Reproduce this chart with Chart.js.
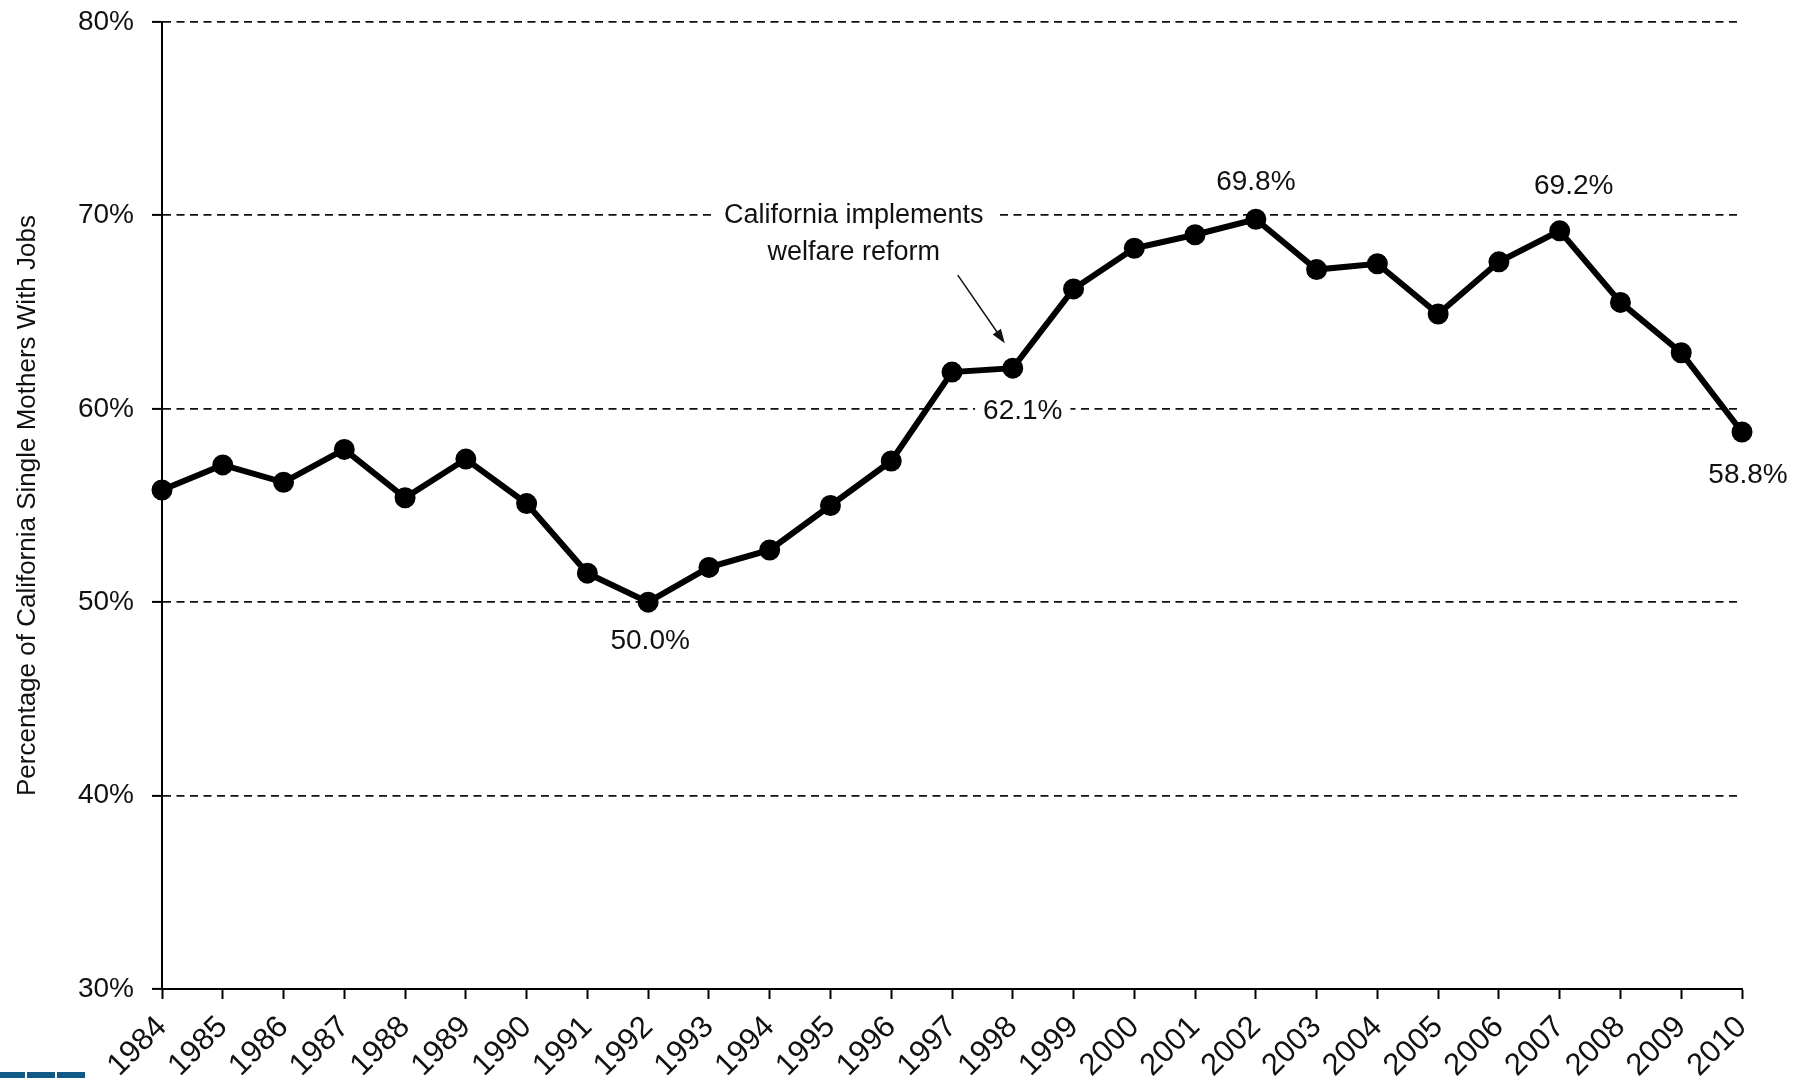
<!DOCTYPE html>
<html>
<head>
<meta charset="utf-8">
<script src="https://cdn.jsdelivr.net/npm/chart.js@4/dist/chart.umd.min.js"></script>
<style>
  html, body { margin: 0; padding: 0; background: #fff; }
  #wrap { position: relative; width: 1805px; height: 1078px; }
  .logo { position: absolute; bottom: 0; height: 6px; background: #0f5a86; }
</style>
</head>
<body>
<div id="wrap">
  <canvas id="chart" width="1805" height="1078"></canvas>
  <div class="logo" style="left:0;width:25px"></div>
  <div class="logo" style="left:27px;width:28px"></div>
  <div class="logo" style="left:57px;width:28px"></div>
</div>
<script>
const years = ["1984","1985","1986","1987","1988","1989","1990","1991","1992","1993","1994","1995","1996",
  "1997","1998","1999","2000","2001","2002","2003","2004","2005","2006","2007","2008","2009","2010"];
const employed = [55.8, 57.1, 56.2, 57.9, 55.4, 57.4, 55.1, 51.5, 50.0, 51.8, 52.7, 55.0, 57.3,
  61.9, 62.1, 66.2, 68.3, 69.0, 69.8, 67.2, 67.5, 64.9, 67.6, 69.2, 65.5, 62.9, 58.8];
const yTicks = [30, 40, 50, 60, 70, 80];

// labelled points: year, text, offset from point
const pointLabels = [
  { year: "1992", text: "50.0%", dx: 2, dy: 39 },
  { year: "1998", text: "62.1%", dx: 10, dy: 43 },
  { year: "2002", text: "69.8%", dx: 0, dy: -37 },
  { year: "2007", text: "69.2%", dx: 14, dy: -45 },
  { year: "2010", text: "58.8%", dx: 6, dy: 43 },
];
const noteLines = ["California implements", "welfare reform"];
const noteYear = "1998";

const FONT = "'Liberation Sans', Arial, sans-serif";

const annotations = {
  id: "annotations",
  beforeDatasetsDraw(chart) {
    const { ctx, scales } = chart;
    const meta = chart.getDatasetMeta(0);
    ctx.save();
    ctx.font = "28px " + FONT;
    ctx.textAlign = "center";
    ctx.textBaseline = "middle";

    for (const l of pointLabels) {
      const p = meta.data[years.indexOf(l.year)];
      const x = p.x + l.dx, y = p.y + l.dy;
      const w = ctx.measureText(l.text).width;
      ctx.fillStyle = "#fff";
      ctx.fillRect(x - w / 2 - 8, y - 16, w + 16, 32);
      ctx.fillStyle = "#111";
      ctx.fillText(l.text, x, y);
    }

    // note about welfare reform
    ctx.font = "27px " + FONT;
    const p = meta.data[years.indexOf(noteYear)];
    const nx = p.x - 159;
    const ny = scales.y.getPixelForValue(70);
    const w = ctx.measureText(noteLines[0]).width;
    ctx.fillStyle = "#fff";
    ctx.fillRect(nx - w / 2 - 13, ny - 16, w + 26, 32);
    ctx.fillStyle = "#111";
    ctx.fillText(noteLines[0], nx, ny);
    ctx.fillText(noteLines[1], nx, ny + 37);

    // arrow
    const x1 = p.x - 55, y1 = p.y - 93, x2 = p.x - 8, y2 = p.y - 25;
    const a = Math.atan2(y2 - y1, x2 - x1);
    ctx.strokeStyle = "#111";
    ctx.lineWidth = 1.5;
    ctx.beginPath();
    ctx.moveTo(x1, y1);
    ctx.lineTo(x2 - 10 * Math.cos(a), y2 - 10 * Math.sin(a));
    ctx.stroke();
    ctx.beginPath();
    ctx.moveTo(x2, y2);
    ctx.lineTo(x2 - 14 * Math.cos(a) + 5 * Math.sin(a), y2 - 14 * Math.sin(a) - 5 * Math.cos(a));
    ctx.lineTo(x2 - 14 * Math.cos(a) - 5 * Math.sin(a), y2 - 14 * Math.sin(a) + 5 * Math.cos(a));
    ctx.closePath();
    ctx.fillStyle = "#111";
    ctx.fill();
    ctx.restore();
  },
};

new Chart(document.getElementById("chart"), {
  type: "line",
  data: {
    labels: years,
    datasets: [{
      data: employed,
      borderColor: "#000",
      borderWidth: 6,
      backgroundColor: "#000",
      pointRadius: 9.5,
      pointBorderWidth: 2,
      pointBorderColor: "#000",
      pointBackgroundColor: "#000",
      tension: 0,
    }],
  },
  options: {
    responsive: false,
    animation: false,
    layout: { padding: { top: 0, right: 63, left: 0, bottom: 0 } },
    plugins: { legend: { display: false }, tooltip: { enabled: false } },
    scales: {
      x: {
        type: "category",
        offset: false,
        afterFit: (s) => { s.height = 89; },
        grid: { drawOnChartArea: false, drawTicks: true, tickLength: 10, tickColor: "#000", tickWidth: 2 },
        border: { display: true, color: "#000", width: 2 },
        ticks: {
          color: "#111",
          font: { family: FONT, size: 31 },
          minRotation: 45,
          maxRotation: 45,
          autoSkip: false,
          padding: 10,
        },
      },
      y: {
        min: 30,
        max: 80,
        afterFit: (s) => { s.width = 162; s.paddingTop = 22; },
        afterBuildTicks: (s) => { s.ticks = yTicks.map((v) => ({ value: v })); },
        grid: { color: "#111", lineWidth: 1.8, tickLength: 10, tickColor: "#000", tickWidth: 2 },
        border: { display: true, color: "#000", width: 2, dash: [8, 5.5] },
        ticks: {
          color: "#111",
          font: { family: FONT, size: 28 },
          padding: 18,
          callback: (v) => v + "%",
        },
        title: {
          display: true,
          text: "Percentage of California Single Mothers With Jobs",
          color: "#111",
          font: { family: FONT, size: 26 },
          padding: { top: 12, bottom: 0 },
        },
      },
    },
  },
  plugins: [annotations],
});
</script>
</body>
</html>
